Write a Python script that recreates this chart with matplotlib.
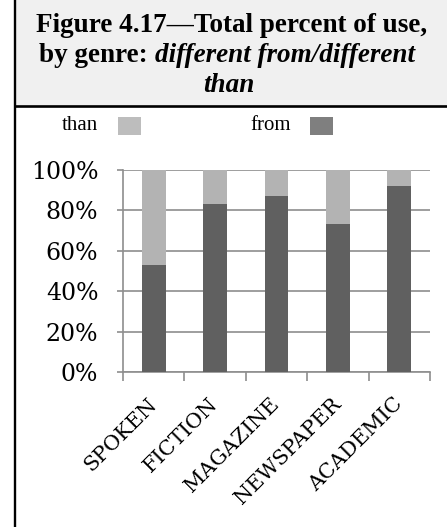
import matplotlib
matplotlib.use("Agg")
import matplotlib.pyplot as plt
from matplotlib.patches import Rectangle
from matplotlib.lines import Line2D
import numpy as np

# Share of "different from" vs "different than" per genre (percent)
genres = ["SPOKEN", "FICTION", "MAGAZINE", "NEWSPAPER", "ACADEMIC"]
pct_from = [53, 83, 87, 73.5, 92]
pct_than = [47, 17, 13, 26.5, 8]
series_names = ["than", "from"]
yticks = [0, 20, 40, 60, 80, 100]
ytick_labels = [f"{v}%" for v in yticks]

W, H = 447, 527
DARK, LIGHT = "#606060", "#b3b3b3"
GRID = "#8e8e8e"

fig = plt.figure(figsize=(W / 100, H / 100), dpi=100)


def fx(px):
    return px / W


def fy(py):
    return 1 - py / H


# --- title panel -----------------------------------------------------------
fig.add_artist(Rectangle((fx(15), fy(106)), 1, 106 / H, transform=fig.transFigure,
                         facecolor="#f0f0f0", edgecolor="none", zorder=0))
fig.add_artist(Line2D([fx(15), 1], [fy(106), fy(106)], color="black", lw=1.9))
fig.add_artist(Line2D([fx(15), fx(15)], [0, 1], color="black", lw=1.7))

TFONT = "Liberation Serif"
TSIZE = 19.5
fig.text(fx(232), fy(32), "Figure 4.17\u2014Total percent of use,", ha="center",
         va="baseline", family=TFONT, weight="bold", size=TSIZE)

renderer = fig.canvas.get_renderer()
t1 = fig.text(0, fy(62.5), "by genre:", ha="left", va="baseline",
              family=TFONT, weight="bold", size=TSIZE)
t2 = fig.text(0, fy(62.5), "different from/different", ha="left", va="baseline",
              family=TFONT, weight="bold", style="italic", size=TSIZE)
w1 = t1.get_window_extent(renderer).width
w2 = t2.get_window_extent(renderer).width
space = 0.25 * TSIZE * 100 / 72
x0 = 227 - (w1 + space + w2) / 2
t1.set_x(fx(x0))
t2.set_x(fx(x0 + w1 + space))
fig.text(fx(229), fy(92), "than", ha="center", va="baseline",
         family=TFONT, weight="bold", style="italic", size=TSIZE)

# --- legend ----------------------------------------------------------------
legend_specs = [(series_names[0], 80, 118, "#bdbdbd"),
                (series_names[1], 271, 310, "#7f7f7f")]
for name, tx, sx, col in legend_specs:
    fig.text(fx(tx), fy(130), name, ha="center", va="baseline",
             family=TFONT, size=15)
    fig.add_artist(Rectangle((fx(sx), fy(135)), 23 / W, 18 / H,
                             transform=fig.transFigure, facecolor=col,
                             edgecolor="none"))

# --- chart -----------------------------------------------------------------
ax = fig.add_axes([fx(123), fy(372), (430 - 123) / W, (372 - 170) / H])
x = np.arange(len(genres))
ax.bar(x, pct_from, width=0.39, color=DARK, zorder=3)
ax.bar(x, pct_than, width=0.39, bottom=pct_from, color=LIGHT, zorder=3)

ax.set_xlim(-0.5, len(genres) - 0.5)
ax.set_ylim(0, 100)
ax.yaxis.grid(True, color=GRID, lw=1.2, zorder=0)
ax.set_axisbelow(True)

for side in ("top", "right"):
    ax.spines[side].set_visible(False)
for side in ("left", "bottom"):
    ax.spines[side].set_color(GRID)
    ax.spines[side].set_linewidth(1.2)

ax.set_yticks(yticks)
ax.set_yticklabels(ytick_labels, family="DejaVu Serif", size=17)
ax.tick_params(axis="y", length=4.3, width=1.2, color=GRID, pad=13.5)

ax.set_xticks(x)
ax.set_xticklabels(genres, rotation=45, ha="right", va="center",
                   rotation_mode="anchor", family="DejaVu Serif", size=15)
ax.tick_params(axis="x", which="major", length=0, pad=21)
ax.set_xticks(np.arange(-0.5, len(genres)), minor=True)
ax.tick_params(axis="x", which="minor", length=6.5, width=1.2, color=GRID)

fig.savefig("out.png", dpi=100)
